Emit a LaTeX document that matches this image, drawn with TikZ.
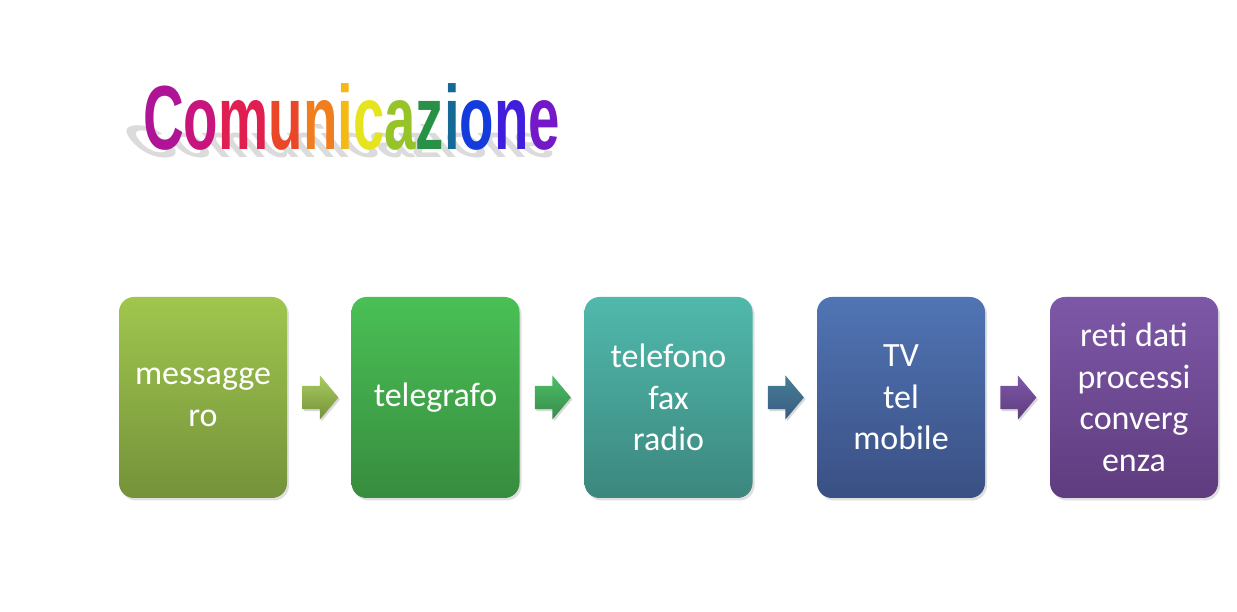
\documentclass[tikz,border=0pt]{standalone}
\usepackage{fontspec}
\setmainfont{Carlito}
\newfontfamily\titlefont{Liberation Sans}
\usetikzlibrary{shapes.arrows,shadows,calc}
\definecolor{cC}{RGB}{175,20,150}
\definecolor{co}{RGB}{200,20,125}
\definecolor{cm}{RGB}{225,30,80}
\definecolor{cu}{RGB}{235,70,40}
\definecolor{cn}{RGB}{240,125,30}
\definecolor{ci}{RGB}{245,185,20}
\definecolor{cc}{RGB}{230,228,30}
\definecolor{ca}{RGB}{150,195,40}
\definecolor{cz}{RGB}{40,145,70}
\definecolor{cii}{RGB}{20,105,150}
\definecolor{coo}{RGB}{20,60,220}
\definecolor{cnn}{RGB}{65,30,220}
\definecolor{ce}{RGB}{115,25,200}
\definecolor{boxAt}{RGB}{160,198,78}
\definecolor{boxAb}{RGB}{116,146,58}
\definecolor{boxBt}{RGB}{74,192,86}
\definecolor{boxBb}{RGB}{55,140,62}
\definecolor{boxCt}{RGB}{80,185,172}
\definecolor{boxCb}{RGB}{60,135,126}
\definecolor{boxDt}{RGB}{80,116,180}
\definecolor{boxDb}{RGB}{58,80,132}
\definecolor{boxEt}{RGB}{125,88,168}
\definecolor{boxEb}{RGB}{95,60,126}
\tikzset{
  stagebox/.style={rounded corners=15pt, minimum width=168pt, minimum height=201pt,
    text=white, align=center, inner sep=0pt,
    font=\fontsize{34}{41.5}\selectfont,
    drop shadow={opacity=0.25, shadow xshift=2pt, shadow yshift=-2.5pt}},
  flowarrow/.style={single arrow, minimum height=36pt, anchor=tail,
    single arrow head extend=10.5pt, single arrow tip angle=100,
    inner xsep=0pt, inner ysep=11.5pt,
    drop shadow={opacity=0.3, shadow xshift=1.5pt, shadow yshift=-2pt}},
  titletext/.style={font=\titlefont\bfseries\fontsize{91}{91}\selectfont, inner sep=0pt, anchor=base west}
}
\newcommand{\titleword}{\textcolor{cC}{C}\textcolor{co}{o}\textcolor{cm}{m}\textcolor{cu}{u}\textcolor{cn}{n}\textcolor{ci}{i}\textcolor{cc}{c}\textcolor{ca}{a}\textcolor{cz}{z}\textcolor{cii}{i}\textcolor{coo}{o}\textcolor{cnn}{n}\textcolor{ce}{e}}
\begin{document}
\begin{tikzpicture}[x=1pt,y=1pt]
\useasboundingbox[fill=white] (0,0) rectangle (1237,612);
% title shadow
\node[titletext, text=gray!28, xslant=-0.85, yscale=0.5, transform shape] (tshadow) at (143,454) {\scalebox{0.62}[1]{Comunicazione}};
% title
\node[titletext] (title) at (143,462) {\scalebox{0.62}[1]{\titleword}};
% boxes
\node[stagebox, top color=boxAt, bottom color=boxAb] (b1) at (203,214.5) {messagge\\ro};
\node[stagebox, top color=boxBt, bottom color=boxBb] (b2) at (435.5,214.5) {telegrafo};
\node[stagebox, top color=boxCt, bottom color=boxCb] (b3) at (668.5,214.5) {telefono\\fax\\radio};
\node[stagebox, top color=boxDt, bottom color=boxDb] (b4) at (901,214.5) {TV\\tel\\mobile};
\node[stagebox, top color=boxEt, bottom color=boxEb] (b5) at (1134,214.5) {reti dati\\processi\\converg\\enza};
% arrows
\node[flowarrow, top color=boxAt!90!white, bottom color=boxAb] (a1) at ($(b1.east)+(15,0)$) {};
\node[flowarrow, top color=boxBt!80!boxCt, bottom color=boxBb!80!boxCb] (a2) at ($(b2.east)+(15,0)$) {};
\node[flowarrow, top color=boxCb!60!boxDt, bottom color=boxDb!80!boxCb] (a3) at ($(b3.east)+(15,0)$) {};
\node[flowarrow, top color=boxEt, bottom color=boxEb] (a4) at ($(b4.east)+(15,0)$) {};
\end{tikzpicture}
\end{document}
